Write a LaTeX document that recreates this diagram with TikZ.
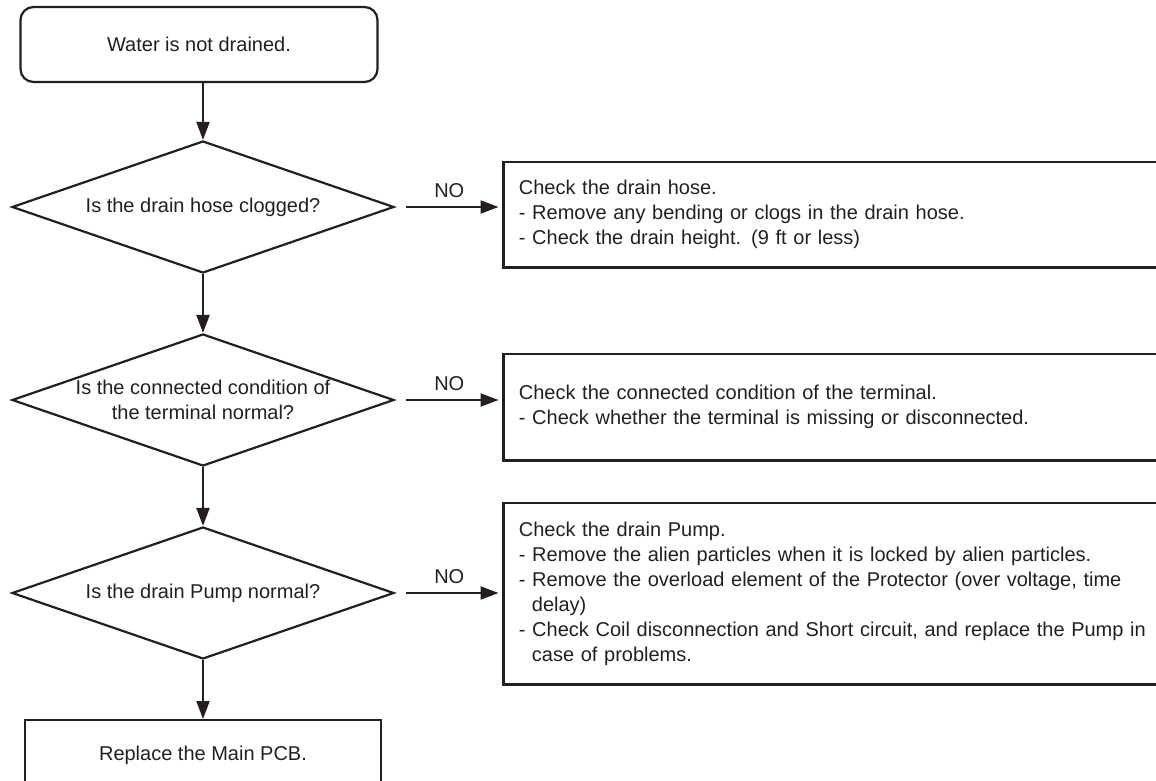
\documentclass[tikz,border=0pt]{standalone}
\usepackage{fontspec}
\setmainfont{Liberation Sans}
\usepackage{xcolor}
\usetikzlibrary{arrows.meta,positioning,shapes.geometric}
\definecolor{Ink}{HTML}{231F20}

\begin{document}
\begin{tikzpicture}[
  x=0.5pt,y=-0.5pt,
  every node/.style={font=\fontsize{10}{12.5}\selectfont,text=Ink},
  startbox/.style={draw=Ink,line width=1.1pt,rounded corners=6.5pt,minimum width=178.5pt,minimum height=37.5pt},
  check/.style={diamond,draw=Ink,line width=1.1pt,minimum width=191pt,minimum height=66pt,inner sep=0pt},
  fixbox/.style={anchor=west,text width=350pt,align=left,inner xsep=7.5pt},
  frame/.style={draw=Ink,line width=1.1pt},
  endbox/.style={draw=Ink,line width=1.1pt,anchor=north,minimum width=178pt,minimum height=35pt},
  flow/.style={-{Triangle[length=9pt,width=6.5pt]},line width=1.1pt,draw=Ink},
  no/.style={font=\fontsize{10}{12.5}\selectfont,text=Ink}
]
\useasboundingbox (0,0) rectangle (1156,781);
\clip (0,0) rectangle (1156,781);

\node[startbox] (start) at (199,44.5) {Water is not drained.};

\node[check,label={[align=center]center:Is the drain hose clogged?}] (q1) at (203,207) {};
\node[check,label={[align=center]center:Is the connected condition of\\the terminal normal?}] (q2) at (203,400) {};
\node[check,label={[align=center]center:Is the drain Pump normal?}] (q3) at (203,593) {};

\node[fixbox,minimum height=52.5pt] (fix1) at (503.5,214.5) {Check the drain hose.\\
- Remove any bending or clogs in the drain hose.\\
- Check the drain height. (9 ft or less)};
\node[fixbox,minimum height=53pt] (fix2) at (503.5,407) {Check the connected condition of the terminal.\\
- Check whether the terminal is missing or disconnected.};
\node[fixbox,minimum height=90.5pt] (fix3) at (503.5,593.5) {Check the drain Pump.\\
- Remove the alien particles when it is locked by alien particles.\\
- Remove the overload element of the Protector (over voltage, time\\
\hspace*{6.5pt}delay)\\
- Check Coil disconnection and Short circuit, and replace the Pump in\\
\hspace*{6.5pt}case of problems.};
\foreach \i in {1,2,3}
  \draw[frame] (fix\i.north east)--(fix\i.north west)--(fix\i.south west)--(fix\i.south east);

\node[endbox] (pcb) at (203,719) {Replace the Main PCB.};

\foreach \a/\b in {start/q1,q1/q2,q2/q3,q3/pcb}
  \draw[flow] (\a.south -| \b.north)--(\b.north);
\foreach \i in {1,2,3}
  \draw[flow,shorten <=5.5pt,shorten >=2.5pt] (q\i.east)--(q\i.east -| fix\i.west)
    node[midway,above=1pt,no] {NO};
\end{tikzpicture}
\end{document}
